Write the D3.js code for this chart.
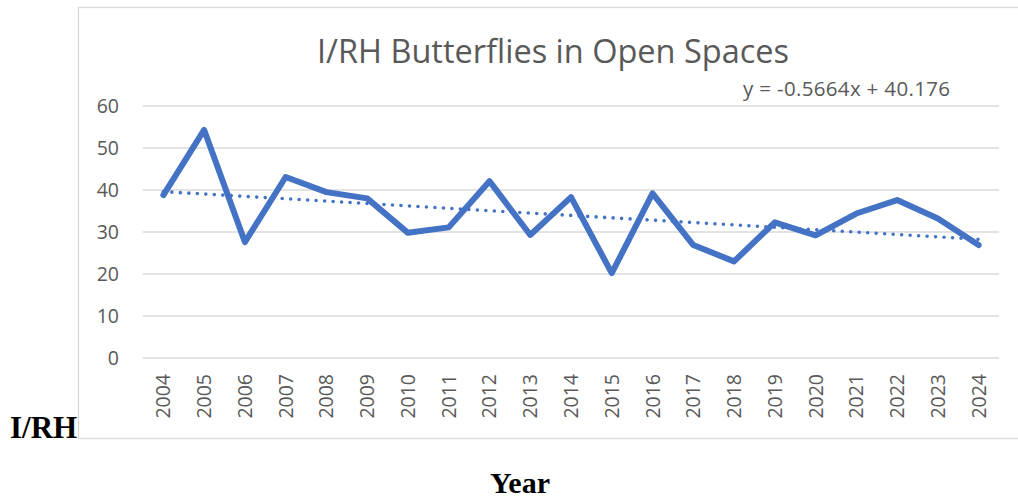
<!DOCTYPE html>
<html lang="en">
<head>
<meta charset="UTF-8">
<title>I/RH Butterflies in Open Spaces</title>
<script src="https://d3js.org/d3.v7.min.js"></script>
<style>
  body { margin: 0; background: #fff; }
  svg text { font-family: "Open Sans", "Noto Sans", sans-serif; fill: #595959; }
  .serif { font-family: "Liberation Serif", "DejaVu Serif", serif !important; font-weight: bold; fill: #000 !important; }
</style>
</head>
<body>
<svg id="chart"></svg>
<script>
// data
var years = ["2004","2005","2006","2007","2008","2009","2010","2011","2012","2013","2014",
             "2015","2016","2017","2018","2019","2020","2021","2022","2023","2024"];
var values = [38.8, 54.3, 27.6, 43.1, 39.5, 38.0, 29.8, 31.1, 42.1, 29.3, 38.3,
              20.2, 39.2, 26.9, 23.0, 32.3, 29.2, 34.4, 37.6, 33.2, 26.9];
var yTicks = [0, 10, 20, 30, 40, 50, 60];
// linear trendline shown on the chart
var trendSlope = -0.5664;
var trendIntercept = 40.176;

var width = 1018, height = 501;
var svg = d3.select("#chart").attr("width", width).attr("height", height);

// chart frame
svg.append("rect")
  .attr("x", 78.5).attr("y", 7.5)
  .attr("width", 960).attr("height", 431)
  .attr("fill", "none").attr("stroke", "#d9d9d9").attr("stroke-width", 1.3);

var x = d3.scaleBand().domain(years).range([143, 999]);
var y = d3.scaleLinear().domain([0, 60]).range([358, 106]);

// gridlines
svg.selectAll("line.grid")
  .data(yTicks)
  .enter()
  .append("line")
  .attr("x1", 143).attr("x2", 999)
  .attr("y1", d => y(d)).attr("y2", d => y(d))
  .attr("stroke", "#d9d9d9").attr("stroke-width", 1.4);

// y labels
svg.selectAll("text.ylab")
  .data(yTicks)
  .enter()
  .append("text")
  .attr("x", 119)
  .attr("y", d => y(d))
  .attr("dy", "0.35em")
  .attr("text-anchor", "end")
  .style("font-size", "19.5px")
  .text(d => d);

// x labels (rotated)
svg.selectAll("text.xlab")
  .data(years)
  .enter()
  .append("text")
  .attr("transform", d => "translate(" + (x(d) + x.bandwidth() / 2 + 7) + ",374) rotate(-90)")
  .attr("text-anchor", "end")
  .style("font-size", "19.5px")
  .text(d => d);

// trendline
var trend = years.map((d, i) => ({ year: d, v: trendSlope * (i + 1) + trendIntercept }));
svg.append("path")
  .datum(trend)
  .attr("fill", "none")
  .attr("stroke", "#4472C4")
  .attr("stroke-width", 3.6)
  .attr("stroke-linecap", "round")
  .attr("stroke-dasharray", "0 8.5")
  .attr("d", d3.line().x(d => x(d.year) + x.bandwidth() / 2).y(d => y(d.v)));

// main series
svg.append("path")
  .datum(values)
  .attr("fill", "none")
  .attr("stroke", "#4472C4")
  .attr("stroke-width", 6)
  .attr("stroke-linejoin", "round")
  .attr("stroke-linecap", "round")
  .attr("d", d3.line().x((d, i) => x(years[i]) + x.bandwidth() / 2).y(d => y(d)));

// title
svg.append("text")
  .attr("x", 553).attr("y", 63)
  .attr("text-anchor", "middle")
  .style("font-size", "32.5px")
  .text("I/RH Butterflies in Open Spaces");

// trend equation
svg.append("text")
  .attr("x", 743).attr("y", 96)
  .attr("textLength", 207)
  .style("font-size", "20.5px")
  .text("y = -0.5664x + 40.176");

// outside labels
svg.append("text")
  .attr("class", "serif")
  .attr("x", 10).attr("y", 438)
  .style("font-size", "31px")
  .text("I/RH");

svg.append("text")
  .attr("class", "serif")
  .attr("x", 520).attr("y", 493)
  .attr("text-anchor", "middle")
  .style("font-size", "30px")
  .text("Year");
</script>
</body>
</html>
